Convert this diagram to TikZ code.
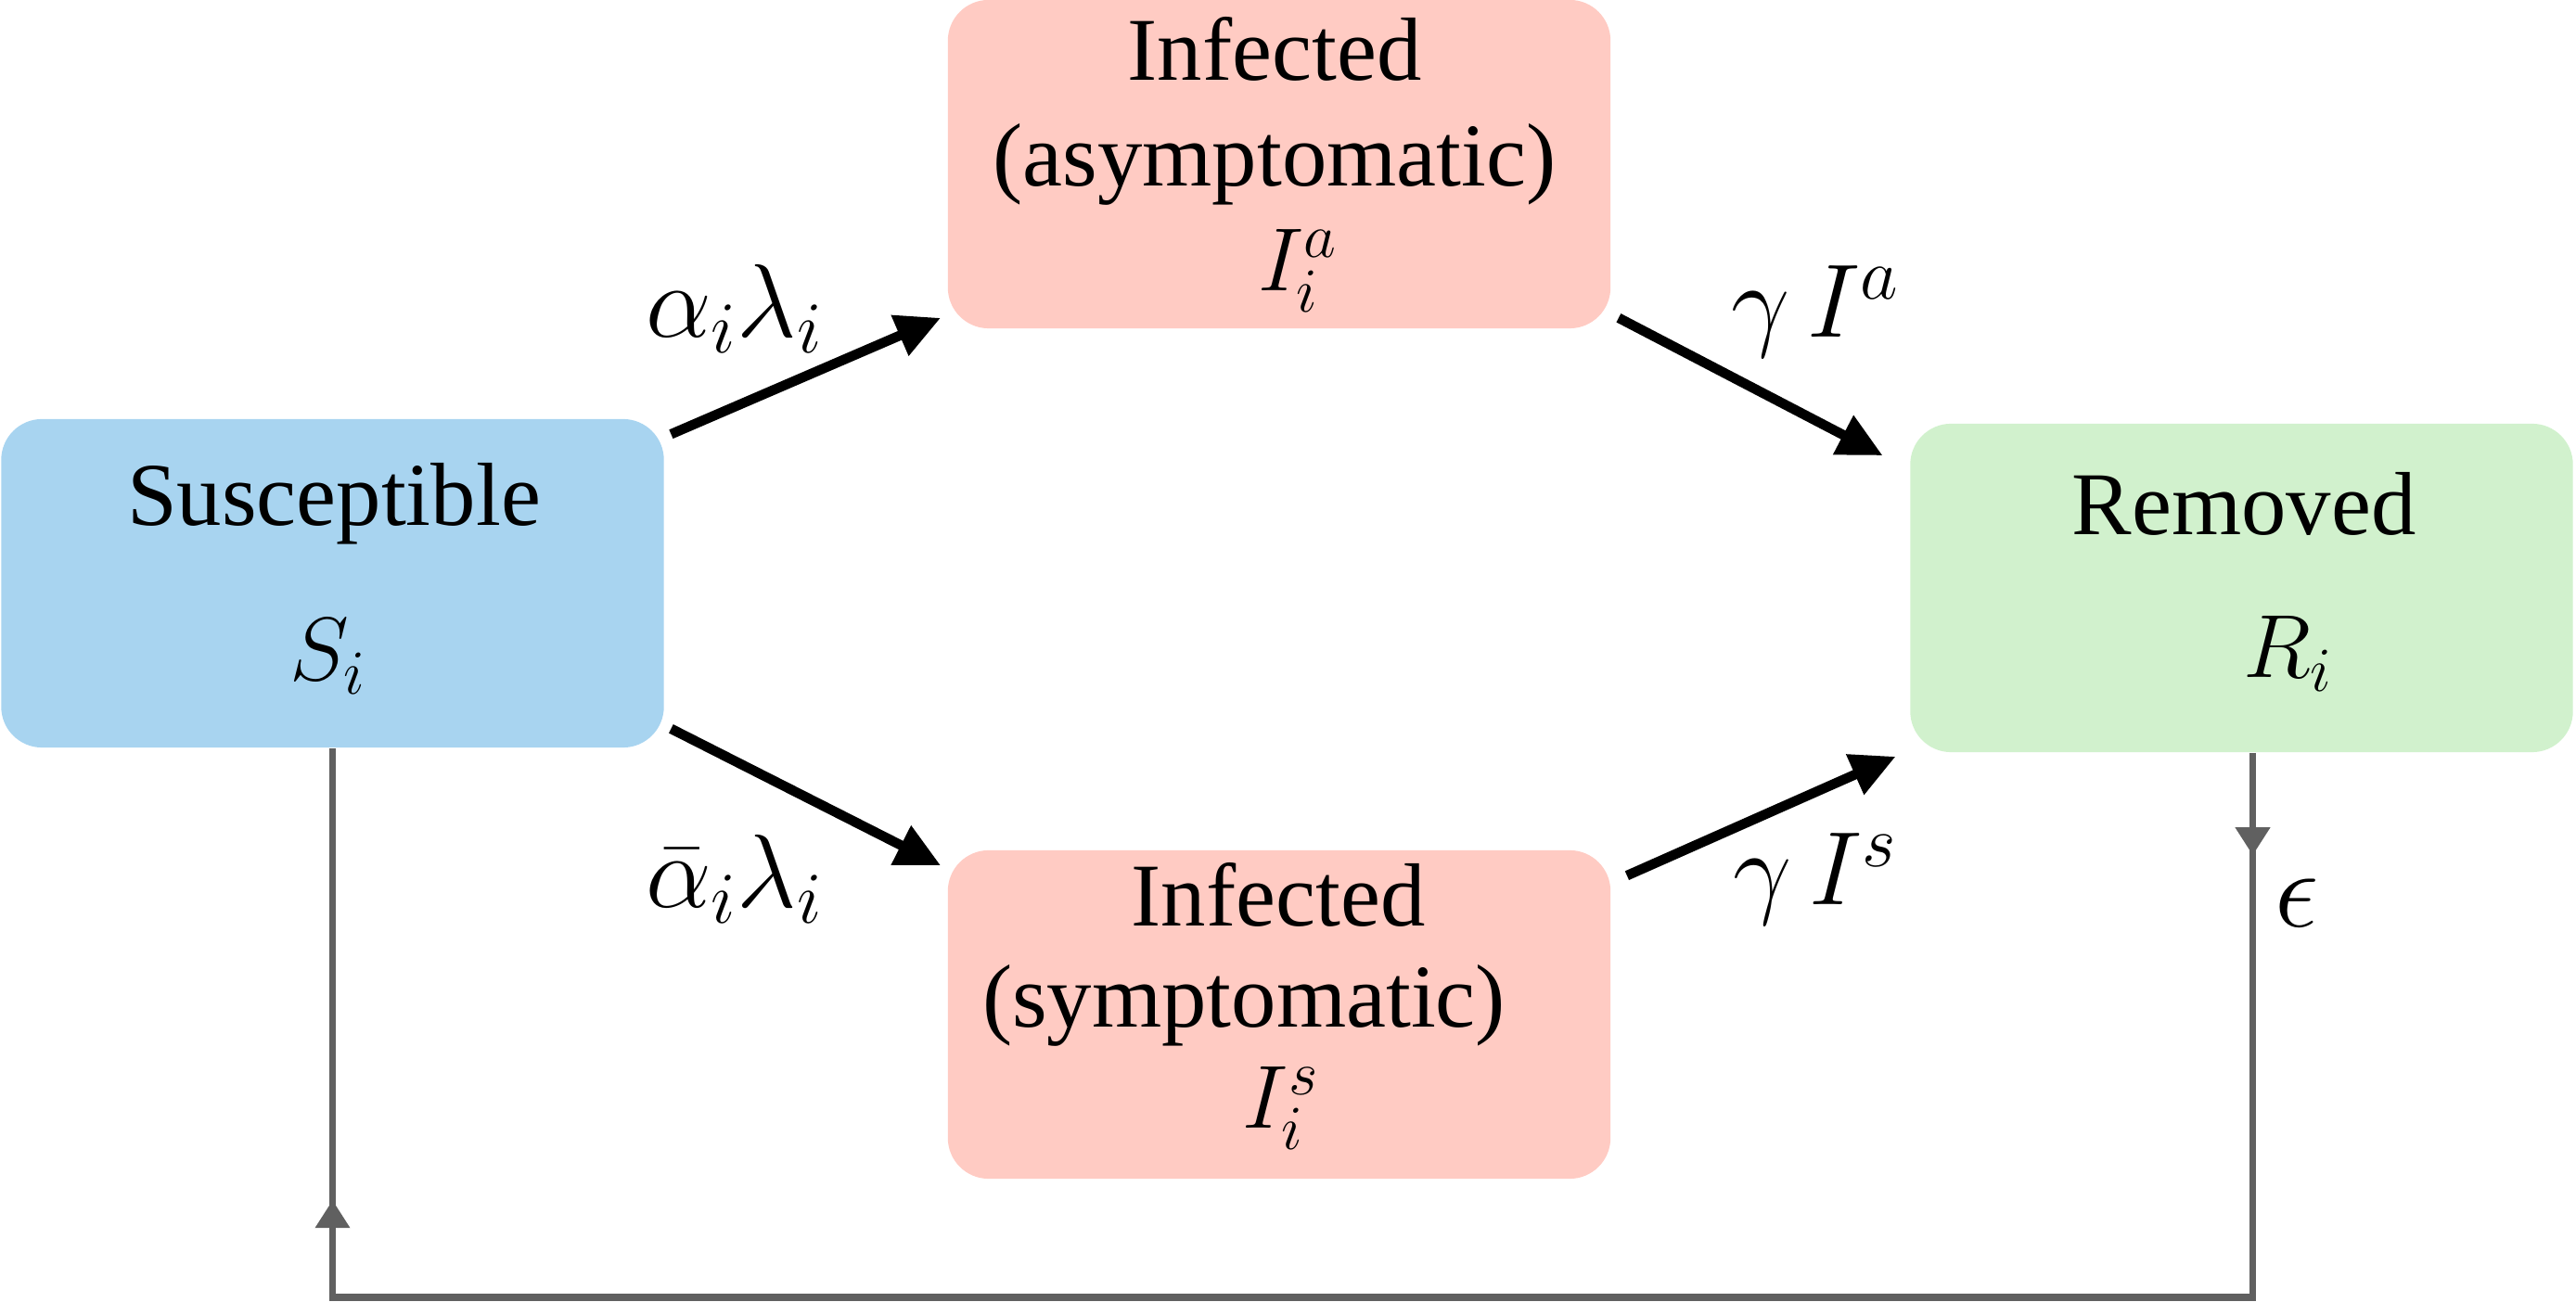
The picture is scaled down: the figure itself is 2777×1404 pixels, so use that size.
\RequirePackage{fix-cm}
\documentclass[tikz,border=0pt]{standalone}
\usepackage{fontspec}
\setmainfont{Liberation Serif}
\newfontfamily\boxfont{Liberation Serif}
\usetikzlibrary{arrows.meta,decorations.markings}
\definecolor{sblue}{HTML}{A8D4F0}
\definecolor{ipink}{HTML}{FFCBC3}
\definecolor{rgreen}{HTML}{D1F1CD}
\definecolor{loopgray}{HTML}{606060}
\tikzset{
  box/.style={rounded corners=0.44cm, draw=none, minimum width=7.14cm, minimum height=3.54cm, inner sep=0pt},
  txt/.style={inner sep=0pt, font=\boxfont\fontsize{27.5}{33}\selectfont},
  lbl/.style={inner sep=0pt, font=\fontsize{32}{38}\selectfont},
  flow/.style={line width=3pt, -{Triangle[length=0.48cm,width=0.45cm]}},
  loopline/.style={line width=2pt, draw=loopgray},
}
\begin{document}
\begin{tikzpicture}[x=0.01cm,y=-0.01cm]
\useasboundingbox (0,0) rectangle (2777,1404);
% boxes
\node[box, fill=sblue] (S) at (358.5,629) {};
\node[box, fill=ipink] (Ia) at (1379,177) {};
\node[box, fill=ipink] (Is) at (1379,1094) {};
\node[box, fill=rgreen] (R) at (2416.5,634) {};
% texts
\node[txt] (St1) at (360,543) {Susceptible};
\node[txt] (St2) at (354,708) {$S_i$};
\node[txt] (Iat1) at (1374,53) {Infected};
\node[txt] (Iat2) at (1374,177) {(asymptomatic)};
\node[txt] (Iat3) at (1399,292) {$I_i^a$};
\node[txt] (Ist1) at (1378,965) {Infected};
\node[txt] (Ist2) at (1341,1084) {(symptomatic)};
\node[txt] (Ist3) at (1381,1195) {$I_i^s$};
\node[txt] (Rt1) at (2419,543) {Removed};
\node[txt] (Rt2) at (2467,705) {$R_i$};
% flows
\draw[flow] ([shift={(7,17)}]S.north east) -- ([shift={(-7,-12)}]Ia.south west);
\draw[flow] ([shift={(7,-21)}]S.south east) -- ([shift={(-7,17)}]Is.north west);
\draw[flow] ([shift={(8,-12)}]Ia.south east) -- ([shift={(-29,35)}]R.north west);
\draw[flow] ([shift={(17,28)}]Is.north east) -- ([shift={(-15,4)}]R.south west);
% flow labels
\node[lbl] (l1) at (792,333) {$\alpha_i\lambda_i$};
\node[lbl] (l2) at (792,948) {$\bar{\alpha}_i\lambda_i$};
\node[lbl] (l3) at (1957,336) {$\gamma\,I^a$};
\node[lbl] (l4) at (1957,948) {$\gamma\,I^s$};
% loop
\coordinate (r0) at ([shift={(12,0)}]R.south);
\coordinate (c1) at (r0 |- 0,1399);
\draw[loopline, postaction={decorate}, decoration={markings,
   mark=at position 0.034 with {\arrow{Triangle[length=0.30cm,width=0.36cm]}},
   mark=at position 0.850 with {\arrow{Triangle[length=0.30cm,width=0.36cm]}}}]
  (r0) -- (c1) -| (S.south);
\node[anchor=west, inner sep=0pt, font=\fontsize{34}{40}\selectfont] (eps) at (2452,974) {$\epsilon$};
\end{tikzpicture}
\end{document}
